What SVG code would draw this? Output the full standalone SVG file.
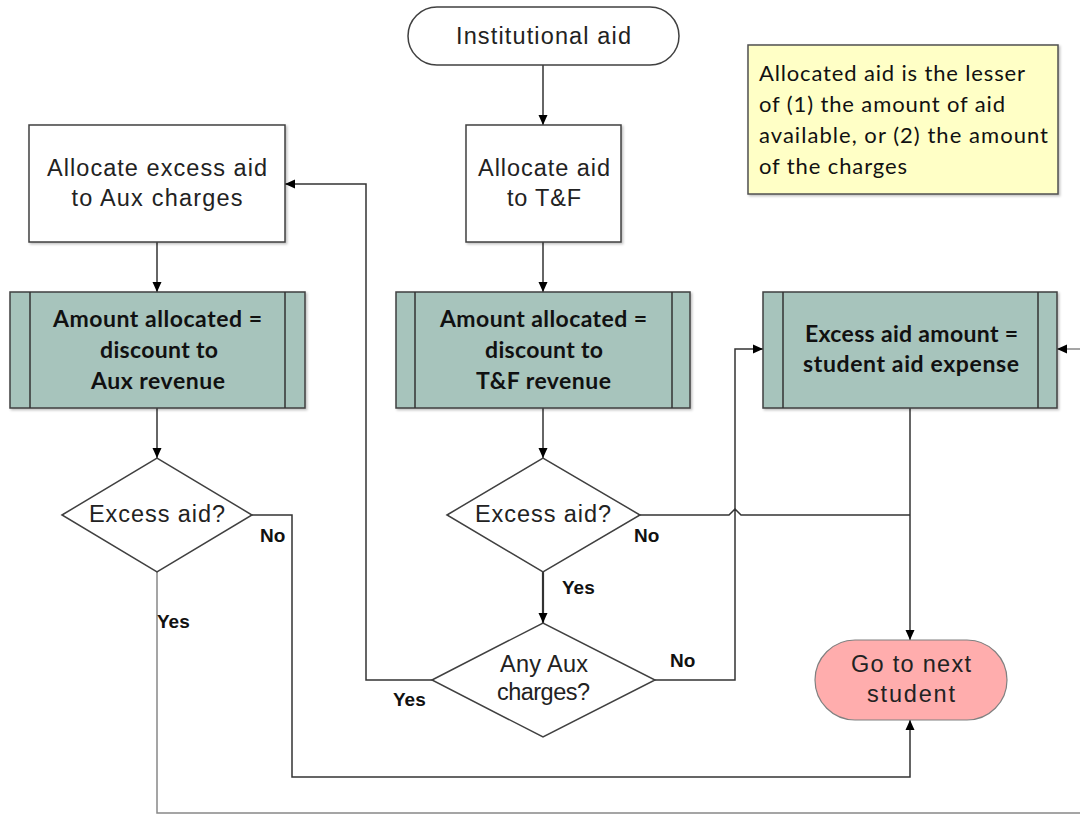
<svg xmlns="http://www.w3.org/2000/svg" width="1080" height="815" viewBox="0 0 1080 815">
<defs>
<marker id="arr" viewBox="0 0 10 10" refX="10" refY="5" markerWidth="10" markerHeight="10" markerUnits="userSpaceOnUse" orient="auto">
<path d="M0,0.5 L10,5 L0,9.5 Z" fill="#000"/>
</marker>
<filter id="sh" x="-5%" y="-5%" width="112%" height="115%">
<feDropShadow dx="1.5" dy="1.5" stdDeviation="1" flood-color="#000" flood-opacity="0.25"/>
</filter>
</defs>
<style>
.box{fill:#fff;stroke:#404040;stroke-width:1.5}
.proc{fill:#A7C4BC;stroke:#404040;stroke-width:1.5}
.term{fill:#fff;stroke:#404040;stroke-width:1.5}
.pink{fill:#FFADAD;stroke:#808080;stroke-width:1.2}
.note{fill:#FFFFC6;stroke:#505050;stroke-width:1.5}
.t{font-family:"Liberation Sans",Arial,sans-serif;font-size:23.5px;fill:#222;text-anchor:middle}
.b{font-family:Lato,"Liberation Sans",sans-serif;font-size:23px;font-weight:bold;fill:#111;text-anchor:middle}
.n{font-family:Lato,"Liberation Sans",sans-serif;font-size:22px;fill:#111}
.lab{font-family:"Liberation Sans",Arial,sans-serif;font-size:19px;font-weight:bold;fill:#111}
.c{fill:none;stroke:#333;stroke-width:1.5}
</style>

<g id="connectors">
<path class="c" d="M543,65 V125" marker-end="url(#arr)"/>
<path class="c" d="M157,242 V292" marker-end="url(#arr)"/>
<path class="c" d="M543,242 V292" marker-end="url(#arr)"/>
<path class="c" d="M157,408 V458" marker-end="url(#arr)"/>
<path class="c" d="M543,408 V458" marker-end="url(#arr)"/>
<path class="c" d="M543,572 V623" style="stroke-width:2.2" marker-end="url(#arr)"/>
<path class="c" d="M432,680 H366 V184 H285" marker-end="url(#arr)"/>
<path class="c" d="M655,680 H735 V349 H763" marker-end="url(#arr)"/>
<path class="c" d="M640,515 H729 L735,509 L741,515 H910"/>
<path class="c" d="M910,408 V640" marker-end="url(#arr)"/>
<path class="c" d="M252,515 H292 V777 H910 V720" marker-end="url(#arr)"/>
<path class="c" d="M157,572 V813 H1084 V349 H1057" style="stroke:#888" marker-end="url(#arr)"/>
</g>

<g id="institutional-aid">
<rect class="term" x="408" y="7" width="271" height="58" rx="29"/>
<text class="t" x="543.5" y="44" textLength="175" lengthAdjust="spacing">Institutional aid</text>
</g>

<g id="allocate-excess">
<rect class="box" x="29" y="125" width="256" height="117" filter="url(#sh)"/>
<text class="t" x="157" y="176" textLength="220" lengthAdjust="spacing">Allocate excess aid</text>
<text class="t" x="157" y="206" textLength="171" lengthAdjust="spacing">to Aux charges</text>
</g>

<g id="allocate-tf">
<rect class="box" x="466" y="125" width="155" height="117" filter="url(#sh)"/>
<text class="t" x="544" y="176" textLength="132" lengthAdjust="spacing">Allocate aid</text>
<text class="t" x="544" y="206" textLength="74" lengthAdjust="spacing">to T&amp;F</text>
</g>

<g id="note">
<rect class="note" x="748" y="45" width="310" height="149" filter="url(#sh)"/>
<text class="n" x="759" y="81" textLength="266" lengthAdjust="spacing">Allocated aid is the lesser</text>
<text class="n" x="759" y="112" textLength="246" lengthAdjust="spacing">of (1) the amount of aid</text>
<text class="n" x="759" y="143" textLength="289" lengthAdjust="spacing">available, or (2) the amount</text>
<text class="n" x="759" y="174" textLength="148" lengthAdjust="spacing">of the charges</text>
</g>

<g id="proc-aux">
<rect class="proc" x="10" y="292" width="295" height="116" filter="url(#sh)"/>
<line class="c" x1="30" y1="292" x2="30" y2="408"/>
<line class="c" x1="285" y1="292" x2="285" y2="408"/>
<text class="b" x="157.5" y="327" textLength="209" lengthAdjust="spacing">Amount allocated =</text>
<text class="b" x="159" y="358" textLength="118" lengthAdjust="spacing">discount to</text>
<text class="b" x="158" y="389" textLength="134" lengthAdjust="spacing">Aux revenue</text>
</g>

<g id="proc-tf">
<rect class="proc" x="396" y="292" width="294" height="116" filter="url(#sh)"/>
<line class="c" x1="415" y1="292" x2="415" y2="408"/>
<line class="c" x1="672" y1="292" x2="672" y2="408"/>
<text class="b" x="543.5" y="327" textLength="207" lengthAdjust="spacing">Amount allocated =</text>
<text class="b" x="544" y="358" textLength="118" lengthAdjust="spacing">discount to</text>
<text class="b" x="543.5" y="389" textLength="135" lengthAdjust="spacing">T&amp;F revenue</text>
</g>

<g id="proc-expense">
<rect class="proc" x="763" y="292" width="294" height="116" filter="url(#sh)"/>
<line class="c" x1="783" y1="292" x2="783" y2="408"/>
<line class="c" x1="1038" y1="292" x2="1038" y2="408"/>
<text class="b" x="911.5" y="342" textLength="213" lengthAdjust="spacing">Excess aid amount =</text>
<text class="b" x="911" y="372" textLength="216" lengthAdjust="spacing">student aid expense</text>
</g>

<g id="dec-left">
<polygon class="box" points="62,515 157,458 252,515 157,572"/>
<text class="t" x="157" y="522" textLength="136" lengthAdjust="spacing">Excess aid?</text>
</g>

<g id="dec-mid">
<polygon class="box" points="447,515 543,458 640,515 543,572"/>
<text class="t" x="543" y="522" textLength="136" lengthAdjust="spacing">Excess aid?</text>
</g>

<g id="dec-aux">
<polygon class="box" points="432,680 543,623 655,680 543,737"/>
<text class="t" x="544" y="672" textLength="88" lengthAdjust="spacing">Any Aux</text>
<text class="t" x="543.5" y="700" textLength="93" lengthAdjust="spacing">charges?</text>
</g>

<g id="next-student">
<rect class="pink" x="815" y="640" width="192" height="80" rx="40"/>
<text class="t" x="911" y="672" textLength="120" lengthAdjust="spacing">Go to next</text>
<text class="t" x="911" y="702" textLength="88" lengthAdjust="spacing">student</text>
</g>

<g id="labels">
<text class="lab" x="260" y="542">No</text>
<text class="lab" x="157" y="628">Yes</text>
<text class="lab" x="634" y="542">No</text>
<text class="lab" x="562" y="594">Yes</text>
<text class="lab" x="670" y="667">No</text>
<text class="lab" x="393" y="706">Yes</text>
</g>
</svg>
